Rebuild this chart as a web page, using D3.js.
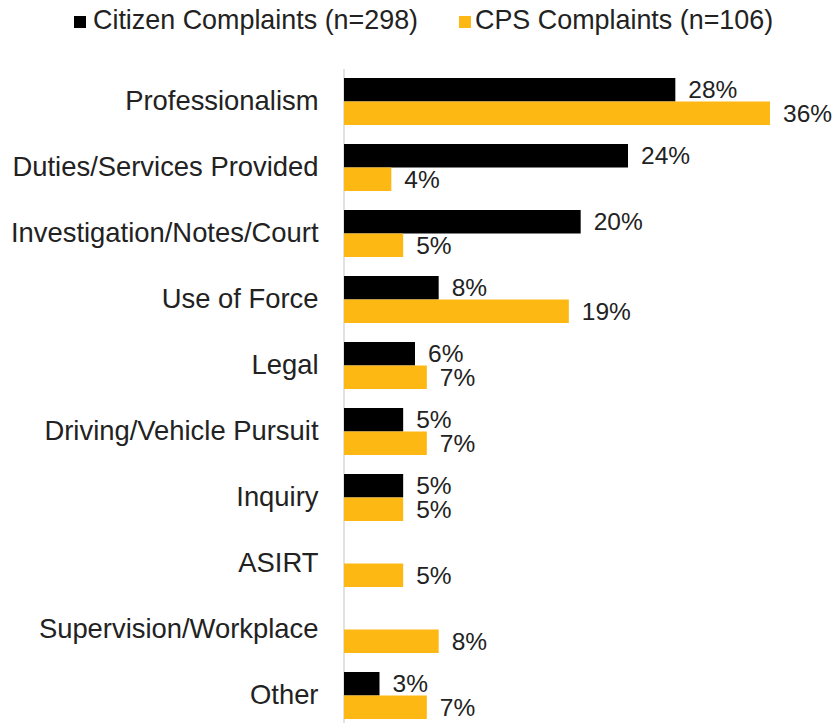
<!DOCTYPE html>
<html>
<head>
<meta charset="utf-8">
<script src="https://cdn.jsdelivr.net/npm/d3@7"></script>
<style>
  html, body { margin: 0; padding: 0; background: #fff; }
  svg { display: block; font-family: "Liberation Sans", Arial, sans-serif; }
</style>
</head>
<body>
<svg id="chart" width="836" height="723"></svg>
<script>
const categories = ["Professionalism", "Duties/Services Provided", "Investigation/Notes/Court",
  "Use of Force", "Legal", "Driving/Vehicle Pursuit", "Inquiry", "ASIRT",
  "Supervision/Workplace", "Other"];
const seriesNames = ["Citizen Complaints (n=298)", "CPS Complaints (n=106)"];
const citizenValues = [28, 24, 20, 8, 6, 5, 5, null, null, 3];
const cpsValues = [36, 4, 5, 19, 7, 7, 5, 5, 8, 7];
const colors = ["#000000", "#FDB813"];

const svg = d3.select("#chart");
const textColor = "#222222";

const x = d3.scaleLinear().domain([0, 36]).range([344, 770]);
const y = d3.scaleBand().domain(categories).range([68.5, 728.5])
  .paddingInner(19 / 66).paddingOuter(19 / 132);
const ySub = d3.scaleBand().domain([0, 1]).range([0, y.bandwidth()]);

// axis with category labels
const axis = svg.append("g")
  .attr("transform", `translate(${x(0) - 0.5},0)`)
  .call(d3.axisLeft(y).tickSize(0).tickPadding(25));
axis.select(".domain").attr("stroke", "#d9d9d9").attr("stroke-width", 1.5);
axis.selectAll("text")
  .attr("fill", textColor)
  .style("font-size", "27.4px")
  .style("font-family", "'Liberation Sans', Arial, sans-serif");

const series = [citizenValues, cpsValues];
series.forEach((vals, si) => {
  const data = categories.map((c, i) => ({ c, v: vals[i] })).filter(d => d.v != null);
  const g = svg.append("g");
  g.selectAll("rect").data(data).join("rect")
    .attr("x", x(0))
    .attr("y", d => y(d.c) + ySub(si))
    .attr("width", d => x(d.v) - x(0))
    .attr("height", ySub.bandwidth())
    .attr("fill", colors[si]);
  g.selectAll("text").data(data).join("text")
    .attr("x", d => x(d.v) + 13)
    .attr("y", d => y(d.c) + ySub(si) + ySub.bandwidth() / 2)
    .attr("dy", "0.35em")
    .attr("fill", textColor)
    .style("font-size", "24.5px")
    .text(d => d.v + "%");
});

// legend
const legendX = [74, 459];
const legend = svg.append("g");
seriesNames.forEach((name, i) => {
  legend.append("rect")
    .attr("x", legendX[i]).attr("y", 16)
    .attr("width", 12).attr("height", 12)
    .attr("fill", colors[i]);
  legend.append("text")
    .attr("x", legendX[i] + (i === 0 ? 19 : 16)).attr("y", 29)
    .attr("fill", textColor)
    .style("font-size", "26.9px")
    .text(name);
});
</script>
</body>
</html>
